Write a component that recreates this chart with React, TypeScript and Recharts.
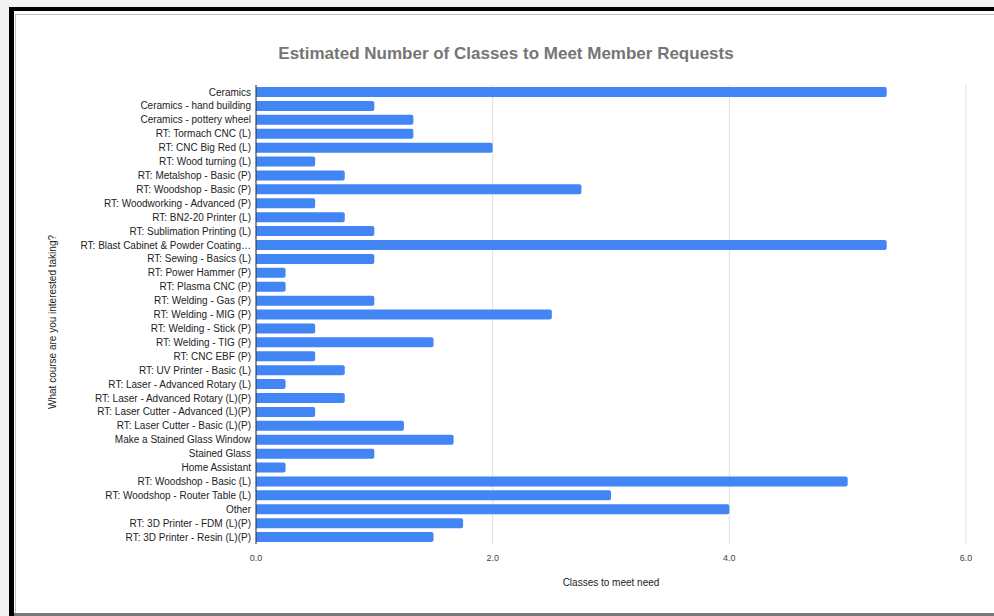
import { BarChart, Bar, XAxis, YAxis, CartesianGrid, Label } from 'recharts'

const courses = [
  'Ceramics',
  'Ceramics - hand building',
  'Ceramics - pottery wheel',
  'RT: Tormach CNC (L)',
  'RT: CNC Big Red (L)',
  'RT: Wood turning (L)',
  'RT: Metalshop - Basic (P)',
  'RT: Woodshop - Basic (P)',
  'RT: Woodworking - Advanced (P)',
  'RT: BN2-20 Printer (L)',
  'RT: Sublimation Printing (L)',
  'RT: Blast Cabinet & Powder Coating…',
  'RT: Sewing - Basics (L)',
  'RT: Power Hammer (P)',
  'RT: Plasma CNC (P)',
  'RT: Welding - Gas (P)',
  'RT: Welding - MIG (P)',
  'RT: Welding - Stick (P)',
  'RT: Welding - TIG (P)',
  'RT: CNC EBF (P)',
  'RT: UV Printer - Basic (L)',
  'RT: Laser - Advanced Rotary (L)',
  'RT: Laser - Advanced Rotary (L)(P)',
  'RT: Laser Cutter - Advanced (L)(P)',
  'RT: Laser Cutter - Basic (L)(P)',
  'Make a Stained Glass Window',
  'Stained Glass',
  'Home Assistant',
  'RT: Woodshop - Basic (L)',
  'RT: Woodshop - Router Table (L)',
  'Other',
  'RT: 3D Printer - FDM (L)(P)',
  'RT: 3D Printer - Resin (L)(P)',
]

const classes = [
  5.33, 1.0, 1.33, 1.33, 2.0, 0.5, 0.75, 2.75, 0.5, 0.75, 1.0, 5.33, 1.0, 0.25, 0.25, 1.0, 2.5,
  0.5, 1.5, 0.5, 0.75, 0.25, 0.75, 0.5, 1.25, 1.67, 1.0, 0.25, 5.0, 3.0, 4.0, 1.75, 1.5,
]

const xTicks = [0, 2, 4, 6]

const data = courses.map((course, i) => ({ course, value: classes[i] }))

const font = 'Arial, "Liberation Sans", sans-serif'

export default function App() {
  return (
    <div style={{ position: 'absolute', left: 0, top: 0, width: 994, height: 616, background: '#fff', overflow: 'hidden', fontFamily: font }}>
      {/* spreadsheet frame */}
      <div style={{ position: 'absolute', left: 0, top: 0, width: 994, height: 7, background: '#f3f3f3' }} />
      <div style={{ position: 'absolute', left: 0, top: 0, width: 9, height: 616, background: '#f3f3f3' }} />
      <div style={{ position: 'absolute', left: 9, top: 7, width: 985, height: 4, background: '#000' }} />
      <div style={{ position: 'absolute', left: 9, top: 7, width: 5, height: 609, background: '#000' }} />
      <div style={{ position: 'absolute', left: 15, top: 14, width: 979, height: 1, background: '#bdbdbd' }} />
      <div style={{ position: 'absolute', left: 15, top: 14, width: 1, height: 602, background: '#bdbdbd' }} />
      <div style={{ position: 'absolute', left: 14, top: 613, width: 980, height: 3, background: '#777' }} />

      <div
        style={{
          position: 'absolute',
          left: 0,
          top: 44,
          width: 1012,
          textAlign: 'center',
          fontSize: 17,
          fontWeight: 'bold',
          color: '#757575',
        }}
      >
        Estimated Number of Classes to Meet Member Requests
      </div>

      <div style={{ position: 'absolute', left: 0, top: 0 }}>
        <BarChart
          width={994}
          height={616}
          data={data}
          layout="vertical"
          margin={{ top: 85, right: 28, bottom: 32, left: 0 }}
          barCategoryGap={2}
        >
          <CartesianGrid horizontal={false} stroke="#e0e0e0" strokeDasharray="" />
          <XAxis
            type="number"
            domain={[0, 6]}
            ticks={xTicks}
            tickFormatter={(v: number) => v.toFixed(1)}
            axisLine={false}
            tickLine={false}
            tick={{ fontSize: 9, fill: '#444', fontFamily: font }}
            tickMargin={5}
            height={40}
          >
            <Label
              content={() => (
                <text x={611} y={586} textAnchor="middle" fontSize={10} fill="#222" fontFamily={font}>
                  Classes to meet need
                </text>
              )}
            />
          </XAxis>
          <YAxis
            type="category"
            dataKey="course"
            width={256}
            interval={0}
            tickLine={false}
            tickSize={0}
            tickMargin={5}
            axisLine={{ stroke: '#333' }}
            tick={{ fontSize: 10, fill: '#222', fontFamily: font }}
          >
            <Label
              content={() => (
                <text
                  x={56}
                  y={322}
                  transform="rotate(-90 56 322)"
                  textAnchor="middle"
                  fontSize={10}
                  fill="#222"
                  fontFamily={font}
                >
                  What course are you interested taking?
                </text>
              )}
            />
          </YAxis>
          <Bar dataKey="value" fill="#4285f4" barSize={10} radius={[0, 2, 2, 0]} isAnimationActive={false} />
        </BarChart>
      </div>
    </div>
  )
}
